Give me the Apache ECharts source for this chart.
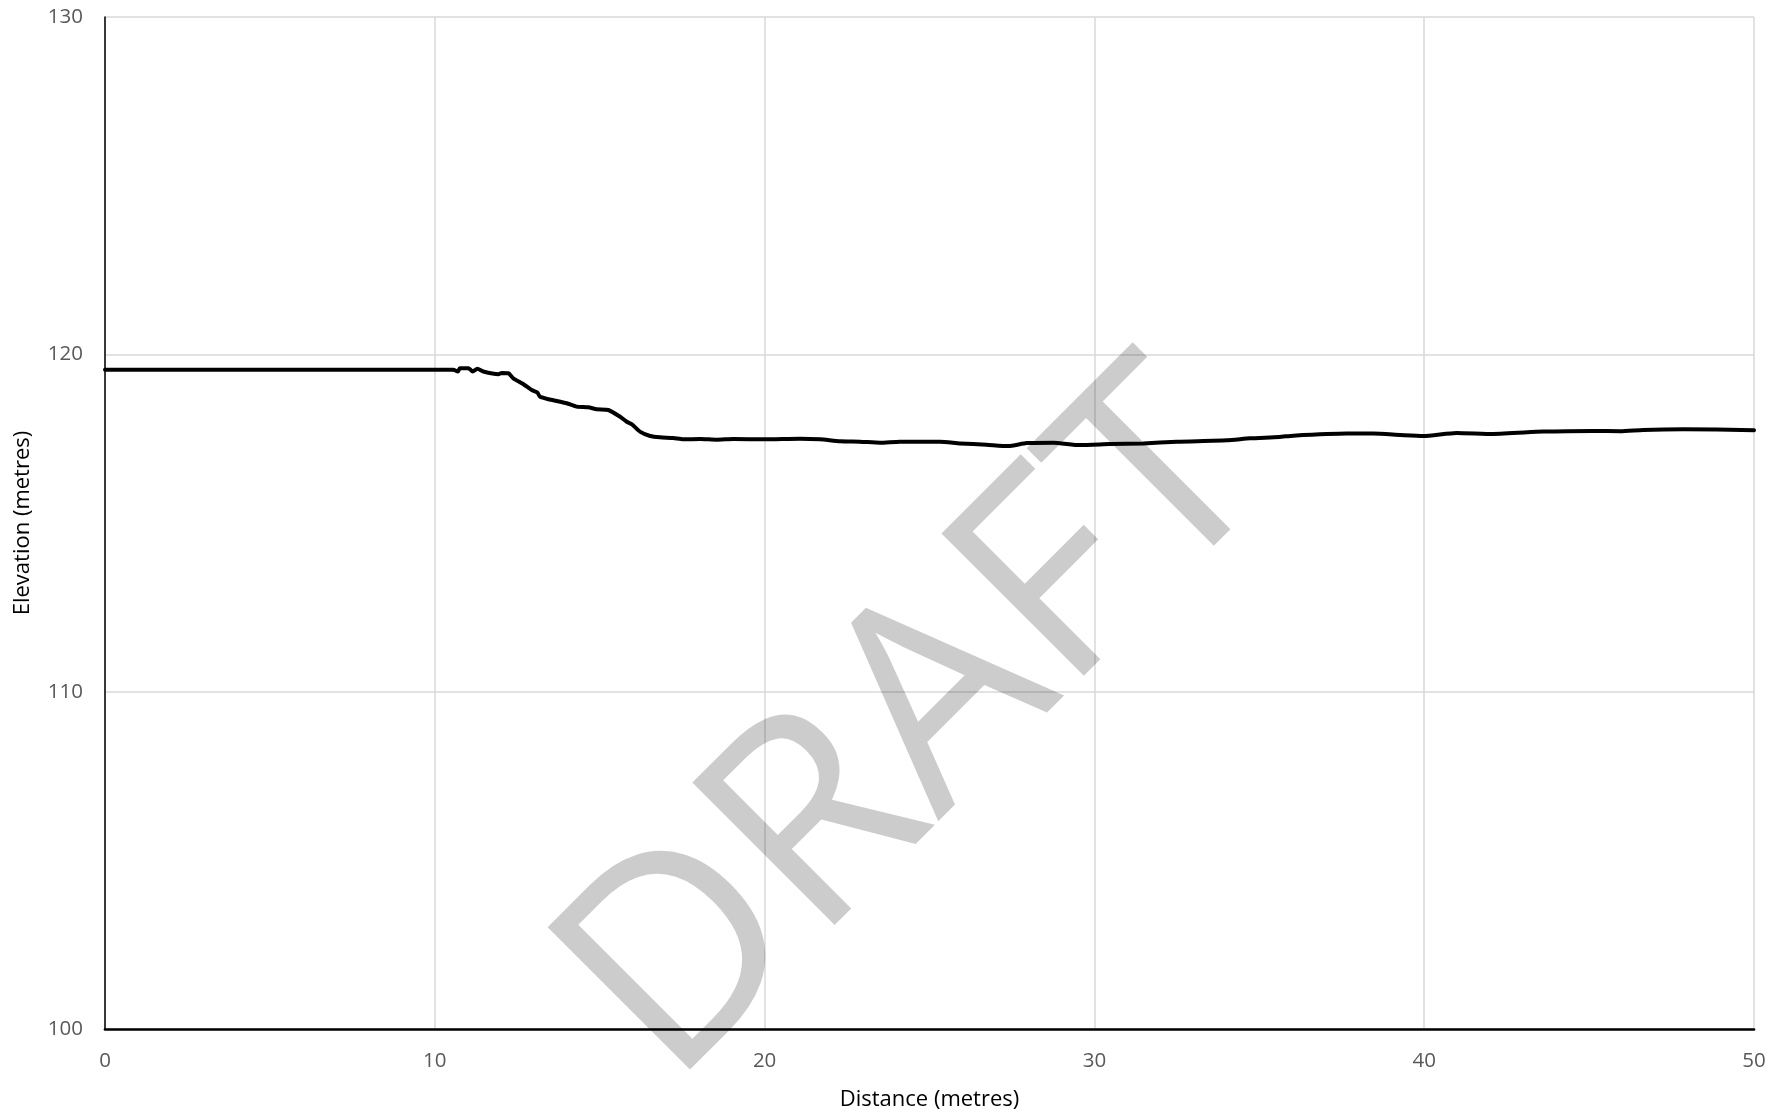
<!DOCTYPE html>
<html>
<head>
<meta charset="utf-8">
<script src="https://cdn.jsdelivr.net/npm/echarts@6/dist/echarts.min.js"></script>
<style>
html,body{margin:0;padding:0;background:#fff;overflow:hidden;}
#chart{width:1788px;height:1116px;}
</style>
</head>
<body>
<div id="chart"></div>
<script>
// Distance along profile (metres)
const distance = [0, 10.56, 10.7, 10.76, 11.02, 11.15, 11.29, 11.47, 11.93, 12.03, 12.23, 12.38, 12.68, 12.94, 13.11, 13.19, 13.49, 14.0, 14.3, 14.65, 14.91, 15.26, 15.62, 15.82, 15.97, 16.22, 16.53, 16.83, 17.23, 17.53, 18.04, 18.55, 19.05, 20.0, 21.07, 21.68, 22.29, 22.89, 23.5, 24.1, 25.32, 25.92, 26.73, 27.39, 27.95, 28.75, 29.56, 30.47, 31.48, 32.5, 34.01, 34.72, 35.6, 36.03, 37.65, 38.46, 39.27, 39.97, 40.98, 42.09, 43.61, 45.13, 45.94, 46.64, 47.86, 50];
// Elevation (metres)
const elevation = [119.54, 119.54, 119.49, 119.59, 119.59, 119.49, 119.57, 119.49, 119.41, 119.45, 119.44, 119.29, 119.12, 118.94, 118.87, 118.74, 118.66, 118.55, 118.45, 118.43, 118.37, 118.35, 118.15, 118.0, 117.93, 117.71, 117.58, 117.54, 117.52, 117.48, 117.49, 117.47, 117.49, 117.48, 117.50, 117.48, 117.42, 117.41, 117.38, 117.41, 117.41, 117.36, 117.32, 117.28, 117.37, 117.38, 117.31, 117.34, 117.36, 117.41, 117.45, 117.51, 117.55, 117.59, 117.65, 117.65, 117.61, 117.58, 117.67, 117.64, 117.71, 117.73, 117.72, 117.76, 117.78, 117.75];
const xTicks = [0, 10, 20, 30, 40, 50];
const yTicks = [100, 110, 120, 130];

const chart = echarts.init(document.getElementById('chart'), null, {renderer: 'canvas', width: 1788, height: 1116});
const pts = distance.map((d, i) => [d, elevation[i]]);

chart.setOption({
  animation: false,
  backgroundColor: '#ffffff',
  grid: {left: 105, right: 34, top: 17, bottom: 87, containLabel: false, outerBoundsMode: 'none'},
  xAxis: {
    type: 'value',
    min: xTicks[0], max: xTicks[xTicks.length - 1], interval: 10,
    name: 'Distance (metres)',
    nameLocation: 'middle',
    nameGap: 60,
    nameTextStyle: {color: '#000', fontSize: 22, fontFamily: 'Open Sans'},
    axisLine: {show: true, onZero: false, lineStyle: {color: '#000', width: 2.7}},
    axisTick: {show: false},
    axisLabel: {color: '#595959', fontSize: 20.5, fontFamily: 'Open Sans', margin: 22},
    splitLine: {show: true, lineStyle: {color: '#d9d9d9', width: 1.5}}
  },
  yAxis: {
    type: 'value',
    min: yTicks[0], max: yTicks[yTicks.length - 1], interval: 10,
    name: 'Elevation (metres)',
    nameLocation: 'middle',
    nameGap: 71,
    nameRotate: 90,
    nameTextStyle: {color: '#000', fontSize: 22, fontFamily: 'Open Sans'},
    axisLine: {show: true, onZero: false, lineStyle: {color: '#000', width: 1.5}},
    axisTick: {show: false},
    axisLabel: {color: '#595959', fontSize: 20.5, fontFamily: 'Open Sans', margin: 22},
    splitLine: {show: true, lineStyle: {color: '#d9d9d9', width: 1.5}}
  },
  series: [{
    type: 'line',
    data: pts,
    showSymbol: false,
    symbol: 'none',
    smooth: 0.2,
    z: 5,
    lineStyle: {color: '#000', width: 4, join: 'round', cap: 'round'}
  }],
  graphic: [{
    type: 'text',
    z: 3,
    x: 917,
    y: 729,
    rotation: Math.PI / 4,
    silent: true,
    style: {
      text: 'DRAFT',
      fontFamily: 'Open Sans',
      fontSize: 282,
      fill: 'rgba(0,0,0,0.2)',
      align: 'center',
      verticalAlign: 'middle'
    }
  }]
});
</script>
</body>
</html>
